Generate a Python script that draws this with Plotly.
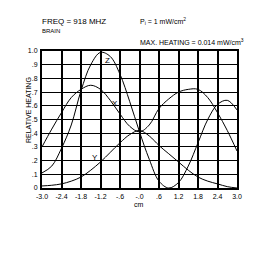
import plotly.graph_objects as go

# distance (cm)
x_cm = [-3.0, -2.7, -2.4, -2.1, -1.8, -1.5, -1.2, -0.9, -0.6, -0.3, 0.0,
        0.3, 0.6, 0.9, 1.2, 1.5, 1.8, 2.1, 2.4, 2.7, 3.0]
heat_x = [0.30, 0.43, 0.55, 0.66, 0.72, 0.75, 0.72, 0.64, 0.54, 0.45, 0.41,
          0.46, 0.58, 0.65, 0.70, 0.72, 0.72, 0.66, 0.55, 0.42, 0.27]
heat_y = [0.015, 0.02, 0.03, 0.05, 0.08, 0.13, 0.19, 0.26, 0.33, 0.39, 0.42,
          0.38, 0.31, 0.25, 0.19, 0.13, 0.08, 0.05, 0.03, 0.01, 0.0]
heat_z = [0.11, 0.16, 0.29, 0.46, 0.71, 0.90, 0.99, 0.96, 0.83, 0.63, 0.41,
          0.21, 0.05, 0.0, 0.04, 0.16, 0.33, 0.50, 0.61, 0.64, 0.57]

x_ticks = [-3.0, -2.4, -1.8, -1.2, -0.6, 0.0, 0.6, 1.2, 1.8, 2.4, 3.0]
x_tick_text = ["-3.0", "-2.4", "-1.8", "-1.2", "-.6", "-.0", ".6", "1.2", "1.8", "2.4", "3.0"]
y_ticks = [0, 0.1, 0.2, 0.3, 0.4, 0.5, 0.6, 0.7, 0.8, 0.9, 1.0]
y_tick_text = ["0", ".1", ".2", ".3", ".4", ".5", ".6", ".7", ".8", ".9", "1.0"]

FONT = "Liberation Sans"
fig = go.Figure()
for name, vals in [("X", heat_x), ("Y", heat_y), ("Z", heat_z)]:
    fig.add_trace(go.Scatter(x=x_cm, y=vals, mode="lines", name=name,
                             line=dict(color="black", width=1, shape="spline"),
                             showlegend=False))

# curve labels
for txt, lx, ly in [("Z", -1.0, 0.93), ("X", -0.75, 0.62), ("Y", -1.38, 0.22)]:
    fig.add_annotation(x=lx, y=ly, text=txt, showarrow=False,
                       font=dict(family=FONT, size=8, color="black"))

W, H = 271, 262
L, R, T, B = 42, 237, 51, 188

def px(xp):
    return (xp - L) / (R - L)

def py(yp):
    return (B - yp) / (B - T)

texts = [
    ("FREQ = 918 MHZ", 40, 22, 8),
    ("BRAIN", 40, 31, 6),
    ("P<sub>i</sub> = 1 mW/cm<sup>2</sup>", 138, 22, 7),
    ("MAX. HEATING = 0.014 mW/cm<sup>3</sup>", 138, 42, 7),
]
for t, xx, yy, fs in texts:
    fig.add_annotation(xref="paper", yref="paper", x=px(xx), y=py(yy), text=t,
                       showarrow=False, xanchor="left", yanchor="middle",
                       font=dict(family=FONT, size=fs, color="black"))

fig.add_annotation(xref="paper", yref="paper", x=px(28), y=py(110),
                   text="RELATIVE HEATING", textangle=-90, showarrow=False,
                   xanchor="center", yanchor="middle",
                   font=dict(family=FONT, size=7, color="black"))
fig.add_annotation(xref="paper", yref="paper", x=px(139), y=py(204),
                   text="cm", showarrow=False, yanchor="middle",
                   font=dict(family=FONT, size=7, color="black"))

fig.update_xaxes(range=[-3, 3], tickvals=x_ticks, ticktext=x_tick_text,
                 showgrid=True, gridcolor="black", gridwidth=1.5,
                 showline=True, linecolor="black", linewidth=2, mirror=True,
                 zeroline=False, ticks="", ticklabelstandoff=1,
                 tickfont=dict(family=FONT, size=7, color="black"))
fig.update_yaxes(range=[0, 1], tickvals=y_ticks, ticktext=y_tick_text,
                 showgrid=True, gridcolor="black", gridwidth=1.2,
                 showline=True, linecolor="black", linewidth=2, mirror=True,
                 zeroline=False, ticks="", ticklabelstandoff=1,
                 tickfont=dict(family=FONT, size=7, color="black"))

fig.update_layout(width=W, height=H, margin=dict(l=L, r=W - R, t=T, b=H - B),
                  paper_bgcolor="white", plot_bgcolor="white")
fig.write_html("out.html")
